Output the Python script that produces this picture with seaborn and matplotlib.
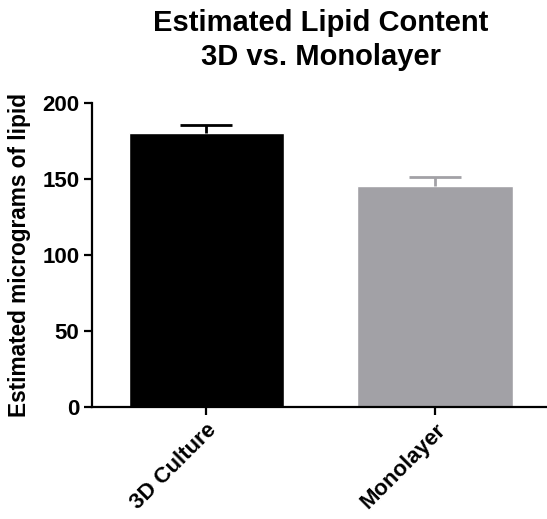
import numpy as np
import pandas as pd
import seaborn as sns
import matplotlib.pyplot as plt

groups = ['3D Culture', 'Monolayer']
lipid = [180.0, 145.5]
sem = [5.5, 6.0]
bar_colors = ['#000000', '#a2a1a6']

sns.set_style('ticks')
plt.rcParams['font.family'] = ['Liberation Sans', 'DejaVu Sans']
plt.rcParams['font.weight'] = 'bold'
plt.rcParams['text.color'] = 'black'
plt.rcParams['axes.labelcolor'] = 'black'
plt.rcParams['xtick.color'] = 'black'
plt.rcParams['ytick.color'] = 'black'

df = pd.DataFrame({'group': groups, 'lipid': lipid})

fig = plt.figure(figsize=(5.47, 5.19), dpi=100)
ax = fig.add_axes([0.168, 0.216, 0.837, 0.586])

sns.barplot(data=df, x='group', y='lipid', hue='group', palette=bar_colors,
            width=0.68, errorbar=None, legend=False, ax=ax, saturation=1)

# upper-only error bars, same colour as bar
for i, (v, e, c) in enumerate(zip(lipid, sem, bar_colors)):
    _, caps, _ = ax.errorbar(i, v, yerr=[[0], [e]], color=c, capsize=19, capthick=2,
                             elinewidth=2, fmt='none')
    caps[0].set_visible(False)

ax.set_xlim(-0.5, 1.5)
ax.set_ylim(0, 200)
ax.set_yticks([0, 50, 100, 150, 200])
ax.set_xlabel('')
ax.set_ylabel('Estimated micrograms of lipid', fontsize=16.3, fontweight='bold', labelpad=8)
ax.set_title('Estimated Lipid Content\n3D vs. Monolayer', fontsize=21, fontweight='bold',
             pad=27, linespacing=1.3)

for s in ['left', 'bottom']:
    ax.spines[s].set_linewidth(1.6)
    ax.spines[s].set_color('black')
sns.despine(ax=ax)
ax.tick_params(axis='both', width=1.6, length=6, color='black', labelsize=16, pad=3)
for lab in ax.get_xticklabels():
    lab.set_rotation(45)
    lab.set_ha('right')
    lab.set_rotation_mode('anchor')
    lab.set_fontweight('bold')
for lab in ax.get_yticklabels():
    lab.set_fontweight('bold')

fig.savefig('out.png', dpi=100)
